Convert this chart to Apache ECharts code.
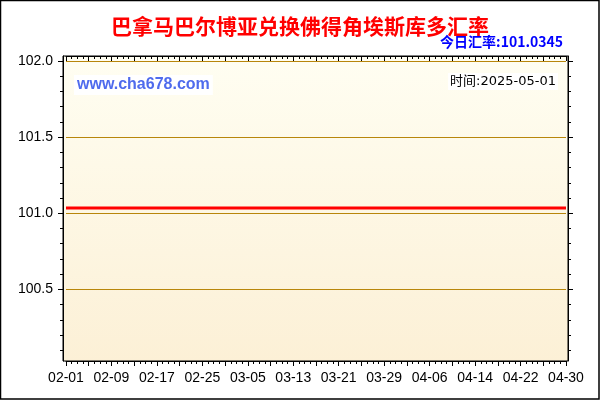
<!DOCTYPE html>
<html>
<head>
<meta charset="utf-8">
<style>
  html, body { margin: 0; padding: 0; background: #fff; }
  #chart { width: 600px; height: 400px; }
</style>
<script src="https://cdn.jsdelivr.net/npm/echarts@6/dist/echarts.min.js"></script>
</head>
<body>
<div id="chart"></div>
<script>
var chartTitle = '巴拿马巴尔博亚兑换佛得角埃斯库多汇率';
var latestRate = 101.0345;
var asOf = '2025-05-01';
var siteName = 'www.cha678.com';

var dates = [
  '02-01','02-02','02-03','02-04','02-05','02-06','02-07','02-08','02-09','02-10',
  '02-11','02-12','02-13','02-14','02-15','02-16','02-17','02-18','02-19','02-20',
  '02-21','02-22','02-23','02-24','02-25','02-26','02-27','02-28',
  '03-01','03-02','03-03','03-04','03-05','03-06','03-07','03-08','03-09','03-10',
  '03-11','03-12','03-13','03-14','03-15','03-16','03-17','03-18','03-19','03-20',
  '03-21','03-22','03-23','03-24','03-25','03-26','03-27','03-28','03-29','03-30','03-31',
  '04-01','04-02','04-03','04-04','04-05','04-06','04-07','04-08','04-09','04-10',
  '04-11','04-12','04-13','04-14','04-15','04-16','04-17','04-18','04-19','04-20',
  '04-21','04-22','04-23','04-24','04-25','04-26','04-27','04-28','04-29','04-30'
];

var rates = [
  101.0345,101.0345,101.0345,101.0345,101.0345,101.0345,101.0345,101.0345,101.0345,101.0345,
  101.0345,101.0345,101.0345,101.0345,101.0345,101.0345,101.0345,101.0345,101.0345,101.0345,
  101.0345,101.0345,101.0345,101.0345,101.0345,101.0345,101.0345,101.0345,
  101.0345,101.0345,101.0345,101.0345,101.0345,101.0345,101.0345,101.0345,101.0345,101.0345,
  101.0345,101.0345,101.0345,101.0345,101.0345,101.0345,101.0345,101.0345,101.0345,101.0345,
  101.0345,101.0345,101.0345,101.0345,101.0345,101.0345,101.0345,101.0345,101.0345,101.0345,101.0345,
  101.0345,101.0345,101.0345,101.0345,101.0345,101.0345,101.0345,101.0345,101.0345,101.0345,
  101.0345,101.0345,101.0345,101.0345,101.0345,101.0345,101.0345,101.0345,101.0345,101.0345,
  101.0345,101.0345,101.0345,101.0345,101.0345,101.0345,101.0345,101.0345,101.0345,101.0345
];

var yMin = 100.029;
var yMax = 102.033;
var yTicks = [100.5, 101.0, 101.5, 102.0];
var yMinorTicks = [100.1, 100.2, 100.3, 100.4, 100.6, 100.7, 100.8, 100.9,
                   101.1, 101.2, 101.3, 101.4, 101.6, 101.7, 101.8, 101.9];

(function() {
  var gold = '#B8860B';
  var font = 'Liberation Sans, Arial, sans-serif';
  var cjk = 'Noto Sans CJK SC, sans-serif';

  var chart = echarts.init(document.getElementById('chart'), null, { renderer: 'canvas' });

  function xAxis(pos, major, showLabel) {
    return {
      type: 'category',
      position: pos,
      data: dates,
      boundaryGap: false,
      axisLine: { show: major, lineStyle: { color: '#000', width: 1 } },
      axisTick: {
        show: true,
        inside: pos === 'top',
        interval: major ? 3 : 0,
        length: major ? 5 : 3,
        lineStyle: { color: '#000' }
      },
      axisLabel: {
        show: showLabel,
        interval: 7,
        margin: 10,
        color: '#000',
        fontSize: 14,
        fontFamily: font
      },
      splitLine: { show: false }
    };
  }

  function yAxis(pos, offset, major, showLabel) {
    return {
      type: 'value',
      position: pos,
      offset: offset,
      min: yMin,
      max: yMax,
      axisLine: { show: major, lineStyle: { color: '#000', width: 1 } },
      axisTick: {
        show: true,
        length: major ? 5 : 3,
        customValues: major ? yTicks : yMinorTicks,
        lineStyle: { color: '#000' }
      },
      axisLabel: {
        show: showLabel,
        customValues: yTicks,
        margin: 10,
        color: '#000',
        fontSize: 14,
        fontFamily: font,
        formatter: function(v) { return v.toFixed(1); }
      },
      splitLine: { show: showLabel, lineStyle: { color: gold, width: 1 } }
    };
  }

  chart.setOption({
    animation: false,
    backgroundColor: '#fff',
    title: [
      {
        text: chartTitle,
        left: 'center',
        top: 11,
        textStyle: { color: '#FF0000', fontSize: 21, fontWeight: 'bold', fontFamily: cjk }
      },
      {
        text: '今日汇率:' + latestRate,
        right: 37,
        top: 35,
        padding: 0,
        textStyle: { color: '#0000FF', fontSize: 14, fontWeight: 'bold', fontFamily: cjk }
      },
      {
        text: siteName,
        left: 74,
        top: 75,
        padding: [2, 3, 2, 3],
        backgroundColor: '#fff',
        textStyle: { color: '#4F6BED', fontSize: 16, fontWeight: 'bold', fontFamily: font }
      },
      {
        text: '时间:' + asOf,
        right: 42,
        top: 73,
        padding: [2, 2, 2, 2],
        backgroundColor: '#fff',
        textStyle: { color: '#000', fontSize: 13, fontWeight: 'normal', fontFamily: 'DejaVu Sans, Noto Sans CJK SC, sans-serif' }
      }
    ],
    graphic: [
      {
        type: 'rect',
        z: -10,
        silent: true,
        shape: { x: 63, y: 56, width: 505, height: 305 },
        style: {
          fill: new echarts.graphic.LinearGradient(0, 0, 0, 1, [
            { offset: 0, color: '#FFFEF2' },
            { offset: 1, color: '#FCF0D6' }
          ]),
          stroke: '#000',
          lineWidth: 1
        }
      },
      {
        type: 'rect',
        z: 100,
        silent: true,
        shape: { x: 0.5, y: 0.5, width: 598.5, height: 398.5 },
        style: { fill: null, stroke: '#000', lineWidth: 1.5 }
      }
    ],
    grid: { left: 66, right: 34, top: 56, bottom: 39 },
    xAxis: [
      xAxis('bottom', true, true),
      xAxis('bottom', false, false),
      xAxis('top', true, false),
      xAxis('top', false, false)
    ],
    yAxis: [
      yAxis('left', 3, true, true),
      yAxis('left', 3, false, false),
      yAxis('right', 2, true, false),
      yAxis('right', 2, false, false)
    ],
    series: [{
      type: 'line',
      data: rates,
      symbol: 'none',
      z: 5,
      lineStyle: { color: '#FF0000', width: 3 }
    }]
  });
  window.addEventListener('resize', function() { chart.resize(); });
})();
</script>
</body>
</html>
